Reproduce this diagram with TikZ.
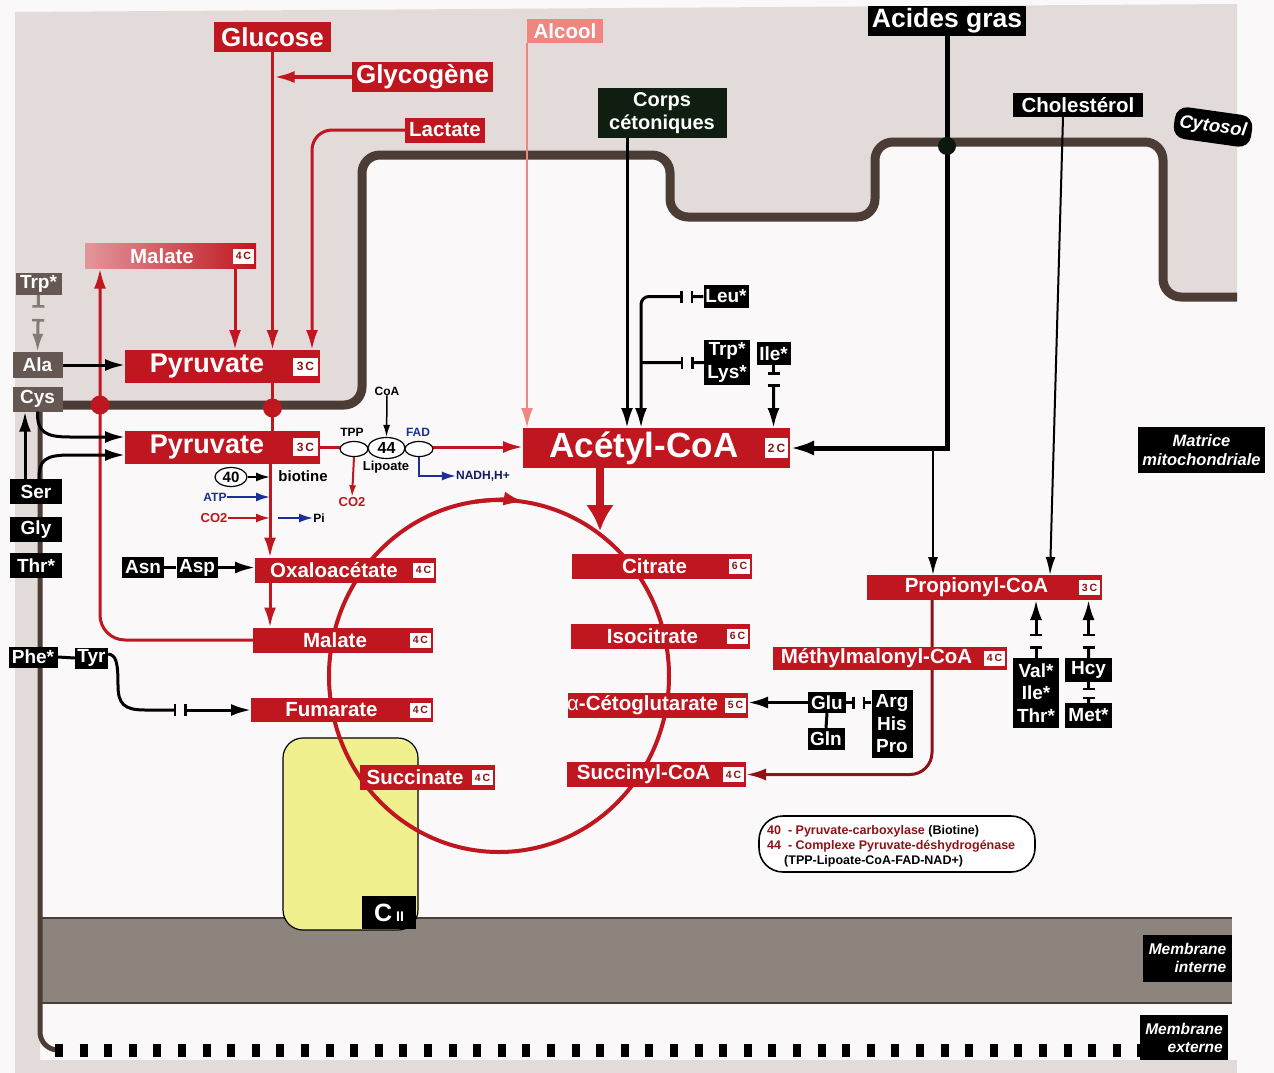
\documentclass[tikz,border=0pt]{standalone}
\usepackage{fontspec}
\setmainfont{Liberation Sans}
\usetikzlibrary{arrows.meta,shapes.geometric,calc}
\definecolor{tred}{HTML}{C0161F}
\definecolor{tdred}{HTML}{8E1216}
\definecolor{tpink}{HTML}{F08680}
\definecolor{tblue}{HTML}{1B2E9A}
\definecolor{cyto}{HTML}{E3DADA}
\definecolor{pagebg}{HTML}{FAF8F8}
\definecolor{memb}{HTML}{4B3D36}
\definecolor{band}{HTML}{8D857D}
\definecolor{aagrey}{HTML}{655853}
\definecolor{cyellow}{HTML}{F1F08E}
\definecolor{dkgreen}{HTML}{0F1E10}
\newcommand\myfs[1]{\fontsize{#1pt}{#1pt}\selectfont}
\tikzset{
 rbox/.style={fill=tred, inner sep=0pt, outer sep=0pt},
 rtxt/.style={text=white, font=\bfseries\myfs{20.5}, inner sep=0pt},
 badge/.style={fill=white, text=tdred, font=\bfseries\myfs{10.5}, inner sep=0pt, minimum width=21pt, minimum height=15pt},
 bbox/.style={fill=black, text=white, font=\bfseries\fontsize{19pt}{22.5pt}\selectfont, inner sep=0pt, align=center},
 gbox/.style={fill=aagrey, text=white, font=\bfseries\myfs{19}, inner sep=0pt},
 arrtip/.style={-{Latex[length=20pt,width=12pt]}},
 rline/.style={draw=tred, line width=3pt},
 rarr/.style={rline, arrtip},
 bline/.style={draw=black, line width=3pt},
 barr/.style={bline, arrtip},
 ell/.style={ellipse, draw=black, line width=1.2pt, fill=white, inner sep=0pt},
 lbl/.style={font=\bfseries\myfs{12}, inner sep=0pt},
 dotr/.style={circle, fill=tred, minimum size=19pt, inner sep=0pt},
 mlab/.style={fill=black, text=white, font=\bfseries\itshape\fontsize{15.5pt}{18pt}\selectfont, inner sep=0pt},
}
\newcommand\rnode[8]{%
 \node[rbox, minimum width=#4pt, minimum height=#5pt] (#1) at (#2,#3) {};
 \node[rtxt] (#1t) at (#6,#3) {#7};
 \node[badge] (#1b) at ([xshift=-12.5pt]#1.east) {#8};}
\newcommand\brkconn[6][black]{%
 \draw[#1, line width=3pt, -{Bar[width=12pt,line width=2.5pt]}] (#2) -- ($(#2)!#4!(#3)$);
 \draw[#1, line width=3pt, {Bar[width=12pt,line width=2.5pt]}-#6] ($(#2)!#5!(#3)$) -- (#3);}
\begin{document}
\begin{tikzpicture}[x=1pt,y=-1pt]
\useasboundingbox (0,0) rectangle (1274,1073);
% background
\fill[pagebg] (0,0) rectangle (1274,1073);
\fill[cyto] (15,12) -- (1237,4) -- (1237,297) [rounded corners=18pt] -- (1163,297) -- (1163,142) -- (875,142) -- (875,217) -- (670,217) -- (670,155) -- (362,155) -- (362,405) [sharp corners] -- (40,405) -- (40,1073) -- (15,1073) -- cycle;
\fill[cyto] (15,1060) rectangle (1237,1073);
% inner membrane band
\fill[band] (40,918) rectangle (1232,1003);
\draw[memb, line width=2.5pt] (40,918) -- (1232,918);
\draw[memb, line width=2.5pt] (40,1003) -- (1232,1003);
% membranes
\draw[memb, line width=9pt, rounded corners=18pt] (40,405) -- (362,405) -- (362,155) -- (670,155) -- (670,217) -- (875,217) -- (875,142) -- (1163,142) -- (1163,297) -- (1237,297);
\draw[memb, line width=5pt, rounded corners=18pt] (40,400) -- (40,1050) -- (62,1050);
\draw[black, line width=13pt, dash pattern=on 8pt off 16.6pt] (55,1050) -- (1140,1050);
% complex II
\node[draw=black, fill=cyellow, rounded corners=20pt, line width=1.2pt, minimum width=135pt, minimum height=192pt, inner sep=0pt] (cii) at (350.5,834) {};
\node[fill=black, text=white, font=\bfseries\myfs{25}, minimum width=54pt, minimum height=33pt, inner sep=0pt] (ciil) at (389,912.5) {C\,{\myfs{14}II}};
% TCA cycle
\draw[tred, line width=4pt] (499,676) ellipse [x radius=170, y radius=176];
\draw[tred, line width=4pt, -{Latex[length=22pt,width=14pt]}] (499,676) ++(262:170 and 176) arc[start angle=262, end angle=279, x radius=170, y radius=176];

% ---------- red boxes ----------
\node[rbox, minimum width=117pt, minimum height=30pt, text=white, font=\bfseries\myfs{26}] (glucose) at (272.5,37) {Glucose};
\node[rbox, minimum width=141pt, minimum height=30pt, text=white, font=\bfseries\myfs{26}] (glyco) at (422.5,77) {Glycogène};
\node[rbox, minimum width=80pt, minimum height=25pt, text=white, font=\bfseries\myfs{20.5}] (lact) at (445,130) {Lactate};
\node[rbox, fill=tpink, minimum width=76pt, minimum height=24pt, text=white, font=\bfseries\myfs{20.5}] (alcool) at (565,31) {Alcool};
\node[rbox, left color=tred!45!white, right color=tred, minimum width=171pt, minimum height=25pt] (malT) at (170.5,256) {};
\node[rtxt] (malTt) at (162,256) {Malate};
\node[badge] (malTb) at ([xshift=-12.5pt]malT.east) {4\,C};
\node[rbox, minimum width=195pt, minimum height=33pt] (pyrT) at (222.5,366.5) {};
\node[rtxt, font=\bfseries\myfs{27}] (pyrTt) at (207,366.5) {Pyruvate};
\node[badge, minimum width=25pt, minimum height=18pt, font=\bfseries\myfs{12}] (pyrTb) at ([xshift=-14.5pt]pyrT.east) {3\,C};
\node[rbox, minimum width=195pt, minimum height=33pt] (pyrB) at (222.5,447) {};
\node[rtxt, font=\bfseries\myfs{27}] (pyrBt) at (207,447) {Pyruvate};
\node[badge, minimum width=25pt, minimum height=18pt, font=\bfseries\myfs{12}] (pyrBb) at ([xshift=-14.5pt]pyrB.east) {3\,C};
\node[rbox, minimum width=267pt, minimum height=40pt] (acoa) at (656.5,448) {};
\node[rtxt, font=\bfseries\myfs{35}] (acoat) at (644,448) {Acétyl-CoA};
\node[badge, minimum width=23pt, minimum height=20pt, font=\bfseries\myfs{12}] (acoab) at ([xshift=-13.5pt]acoa.east) {2\,C};
\node[rbox, minimum width=235pt, minimum height=25pt] (prop) at (984.5,587.5) {};
\node[rbox, minimum width=179pt, minimum height=25pt] (scoa) at (656.5,774.5) {};
% propionyl -> succinyl (behind the boxes)
\coordinate (px) at (932,0);
\draw[draw=tdred, line width=3pt, rounded corners=22pt, arrtip] (px |- prop.south) |- (scoa.east);
\rnode{oaa}{345.5}{570}{181}{25}{334}{Oxaloacétate}{4\,C}
\rnode{malL}{343}{640}{180}{25}{335}{Malate}{4\,C}
\rnode{fum}{342}{710}{182}{24}{331.5}{Fumarate}{4\,C}
\rnode{succ}{427.5}{777.5}{135}{25}{415}{Succinate}{4\,C}
\rnode{cit}{662}{566}{180}{25}{654.5}{Citrate}{6\,C}
\rnode{icit}{660.5}{636}{179}{25}{652.5}{Isocitrate}{6\,C}
\rnode{akg}{658}{705}{180}{25}{642.5}{{\mdseries α}-Cétoglutarate}{5\,C}
\node[rtxt] (scoat) at (643.5,774.5) {Succinyl-CoA};
\node[badge] (scoab) at ([xshift=-12.5pt]scoa.east) {4\,C};
\node[rtxt] (propt) at (976.5,587.5) {Propionyl-CoA};
\node[badge] (propb) at ([xshift=-12.5pt]prop.east) {3\,C};
\rnode{mmal}{890}{658}{234}{23}{876.5}{Méthylmalonyl-CoA}{4\,C}

% ---------- black / grey boxes ----------
\node[bbox, font=\bfseries\myfs{26.5}, minimum width=158pt, minimum height=30pt] (ag) at (947,21) {Acides gras};
\node[bbox, font=\bfseries\myfs{20.5}, minimum width=130pt, minimum height=24pt] (chol) at (1078,105) {Cholestérol};
\node[bbox, fill=dkgreen, font=\bfseries\fontsize{20pt}{23pt}\selectfont, minimum width=129pt, minimum height=50pt] (corps) at (662,113) {Corps\\cétoniques};
\node[bbox, minimum width=45pt, minimum height=23pt] (leu) at (726,296.5) {Leu*};
\node[bbox, minimum width=46pt, minimum height=45pt] (trplys) at (727,362.5) {Trp*\\Lys*};
\node[bbox, minimum width=34pt, minimum height=23pt] (ile) at (773.5,353.5) {Ile*};
\node[bbox, minimum width=38pt, minimum height=21pt] (glu) at (827,702.5) {Glu};
\node[bbox, minimum width=37pt, minimum height=22pt] (gln) at (826,739) {Gln};
\node[bbox, minimum width=41pt, minimum height=68pt] (arg) at (892,724) {Arg\\His\\Pro};
\node[bbox, minimum width=46pt, minimum height=70pt] (val) at (1036,693) {Val*\\Ile*\\Thr*};
\node[bbox, minimum width=47pt, minimum height=24pt] (hcy) at (1088.5,670) {Hcy};
\node[bbox, minimum width=47pt, minimum height=25pt] (met) at (1088.5,715.5) {Met*};
\node[bbox, minimum width=42pt, minimum height=21pt] (asn) at (143,567.5) {Asn};
\node[bbox, minimum width=41pt, minimum height=21pt] (asp) at (197,567.5) {Asp};
\node[bbox, minimum width=49pt, minimum height=21pt] (phe) at (33,657) {Phe*};
\node[bbox, minimum width=33pt, minimum height=21pt] (tyr) at (91.5,658) {Tyr};
\node[bbox, minimum width=52pt, minimum height=25pt] (ser) at (36,491.5) {Ser};
\node[bbox, minimum width=52pt, minimum height=25pt] (gly) at (36,529.5) {Gly};
\node[bbox, minimum width=52pt, minimum height=25pt] (thr) at (36,565.5) {Thr*};
\node[gbox, minimum width=46pt, minimum height=22pt] (trp) at (38.5,284) {Trp*};
\node[gbox, minimum width=50pt, minimum height=26pt] (ala) at (37.5,365) {Ala};
\node[gbox, minimum width=50pt, minimum height=25pt] (cys) at (37.5,399) {Cys};

% region labels
\node[mlab, fill=black, rounded corners=12pt, rotate=-8, font=\bfseries\itshape\myfs{18.5}, minimum width=78pt, minimum height=32pt] (cytosol) at (1213,127) {Cytosol};
\node[mlab, align=center, minimum width=127pt, minimum height=46pt, font=\bfseries\itshape\fontsize{16.5pt}{19pt}\selectfont] (matrice) at (1201.5,450) {Matrice\\mitochondriale};
\node[mlab, align=right, minimum width=89pt, minimum height=47pt] (mint) at (1187.5,958) {Membrane\\interne};
\node[mlab, align=right, minimum width=88pt, minimum height=45pt] (mext) at (1184,1037.5) {Membrane\\externe};

% ---------- red connectors ----------
\coordinate (lx) at (312,0);
\coordinate (mx) at (235,0);
\coordinate (ox) at (270,0);
\coordinate (ox2) at (278,0);
\coordinate (lx2) at (100,0);
\coordinate (acx) at (600,0);
\coordinate (cyctop) at (600,531);
\draw[rarr] (glucose.south) -- (glucose.south |- pyrT.north);
\draw[rarr] (glyco.west) -- ([xshift=2pt]glyco.west -| glucose.south);
\draw[rarr, rounded corners=20pt] (lact.west) -| (lx |- pyrT.north);
\draw[rarr] (mx |- malT.south) -- (mx |- pyrT.north);
\draw[rline] (glucose.south |- pyrT.south) -- (glucose.south |- pyrB.north);
\draw[rarr] (ox |- pyrB.south) -- (ox |- oaa.north);
\draw[rarr] (ox |- oaa.south) -- (ox |- malL.north);
\draw[rarr, rounded corners=25pt] (malL.west) -| (lx2 |- malT.south);
\node[dotr] (d1) at (272.5,408) {};
\node[dotr] (d2) at (100,405) {};
\draw[rarr] (pyrB.east) -- (pyrB.east -| acoa.west);
\draw[draw=tpink, line width=2.5pt, arrtip] (alcool.south west) -- (alcool.south west |- acoa.north);
\draw[tred, line width=8pt, -{Latex[length=26pt,width=28pt]}] (acx |- acoa.south) -- (cyctop);

% ---------- complex 44 ----------
\node[ell, minimum width=28pt, minimum height=15pt] (e1) at (354,449) {};
\node[ell, minimum width=37pt, minimum height=21pt, font=\bfseries\myfs{16}] (e2) at (386.5,448) {44};
\node[ell, minimum width=28pt, minimum height=15pt] (e3) at (419,449) {};
\node[lbl] (tpp) at (352,432) {TPP};
\node[lbl, text=tblue] (fad) at (418,432) {FAD};
\node[lbl] (coa) at (387,391) {CoA};
\node[lbl, font=\bfseries\myfs{13}] (lip) at (386,467) {Lipoate};
\node[lbl, text=tred, font=\bfseries\myfs{13}] (co2b) at (352,502) {CO2};
\node[lbl, text=tblue!60!black] (nadh) at (483,476) {NADH,H+};
\draw[black, line width=1.5pt, -{Latex[length=12pt,width=7pt]}] (coa.south) -- (e2.north);
\draw[tred, line width=2pt, -{Latex[length=12pt,width=7pt]}] (e1.south) -- (co2b.north);
\draw[tblue, line width=2pt, -{Latex[length=14pt,width=9pt]}] (e3.south) |- (nadh.west);

% ---------- carboxylase 40 ----------
\node[ell, minimum width=32pt, minimum height=19pt, font=\bfseries\myfs{15}] (e40) at (231,477) {40};
\node[lbl, font=\bfseries\myfs{15}] (biot) at (303,476) {biotine};
\node[lbl, text=tblue] (atp) at (215,497) {ATP};
\node[lbl, text=tred, font=\bfseries\myfs{13}] (co2a) at (214,518) {CO2};
\node[lbl] (pi) at (319,518) {Pi};
\draw[black, line width=2pt, -{Latex[length=14pt,width=9pt]}] (e40.east) -- (e40.east -| ox);
\draw[tblue, line width=2pt, -{Latex[length=14pt,width=9pt]}] (atp.east) -- (atp.east -| ox);
\draw[tred, line width=2pt, -{Latex[length=14pt,width=9pt]}] (co2a.east) -- (co2a.east -| ox);
\draw[tblue, line width=2pt, -{Latex[length=14pt,width=9pt]}] (co2a.east -| ox2) -- (pi.west);

% ---------- black connectors ----------
\coordinate (kx) at (627,0);
\coordinate (lux) at (641,0);
\coordinate (sx) at (25,0);
\coordinate (chx) at (1050,0);
\coordinate (agb) at (933,448);
\draw[barr] (ala.east) -- (ala.east -| pyrT.west);
\brkconn[aagrey!80!white]{trp.south}{ala.north}{0.22}{0.42}{{Latex[length=18pt,width=11pt]}}
\draw[barr] (sx |- ser.north) -- (sx |- cys.south);
\draw[barr] (cys.south) .. controls (37,432) and (45,437) .. (70,437) -- ([yshift=10pt]pyrB.west);
\draw[barr] ([xshift=3pt]ser.north) .. controls (39,460) and (45,455) .. (70,455) -- ([yshift=-8pt]pyrB.west);
\draw[bline] (asn.east) -- (asp.west);
\draw[barr] (asp.east) -- (asp.east -| oaa.west);
\draw[bline] (phe.east) -- (tyr.west);
\coordinate (tyb1) at (176,710);
\coordinate (tyb2) at (184,710);
\draw[bline, -{Bar[width=12pt,line width=2.5pt]}] ([yshift=4pt]tyr.east) .. controls (116,655) and (118,662) .. (118,685) .. controls (118,704) and (124,710) .. (145,710) -- (tyb1);
\draw[barr, {Bar[width=12pt,line width=2.5pt]}-{Latex[length=20pt,width=12pt]}] (tyb2) -- (fum.west);
\draw[barr] (kx |- corps.south) -- (kx |- acoa.north);
\draw[bline, -{Bar[width=12pt,line width=2.5pt]}] (leu.west) -- ($(leu.west)!0.2!(lux |- leu.west)$);
\draw[bline, {Bar[width=12pt,line width=2.5pt]}-{Latex[length=20pt,width=12pt]}, rounded corners=8pt] ($(leu.west)!0.33!(lux |- leu.west)$) -| (lux |- acoa.north);
\brkconn{trplys.west}{lux |- trplys.west}{0.2}{0.33}{}
\brkconn{ile.south}{ile.south |- acoa.north}{0.15}{0.3}{{Latex[length=20pt,width=12pt]}}
\draw[black, line width=5pt, -{Latex[length=24pt,width=15pt]}] (ag.south) |- (acoa.east);
\node[circle, fill=dkgreen!80!black, minimum size=18pt, inner sep=0pt] (agdot) at (947,146) {};
\draw[black, line width=2pt, -{Latex[length=18pt,width=10pt]}] (agb) -- (agb |- prop.north);
\draw[black, line width=2pt, -{Latex[length=18pt,width=10pt]}] ([xshift=-15pt]chol.south) -- (chx |- prop.north);
\draw[barr] (glu.west) -- (glu.west -| akg.east);
\draw[bline] (glu.south) -- (gln.north);
\brkconn{arg.west |- glu.east}{glu.east}{0.35}{0.65}{}
\brkconn{val.north}{val.north |- prop.south}{0.2}{0.37}{{Latex[length=20pt,width=12pt]}}
\brkconn{hcy.north}{hcy.north |- prop.south}{0.2}{0.37}{{Latex[length=20pt,width=12pt]}}
\brkconn{met.north}{hcy.south}{0.3}{0.62}{}

% ---------- legend ----------
\node[draw=black, fill=white, line width=1.6pt, rounded corners=24pt, minimum width=276pt, minimum height=56pt] (leg) at (897,844) {};
\node[lbl, align=left, anchor=west, font=\bfseries\fontsize{12.5pt}{15pt}\selectfont] (legt) at (767,846) {\textcolor{tdred}{40~ - Pyruvate-carboxylase} (Biotine)\\\textcolor{tdred}{44~ - Complexe Pyruvate-déshydrogénase}\\\hspace{17pt}(TPP-Lipoate-CoA-FAD-NAD+)};
\end{tikzpicture}
\end{document}
